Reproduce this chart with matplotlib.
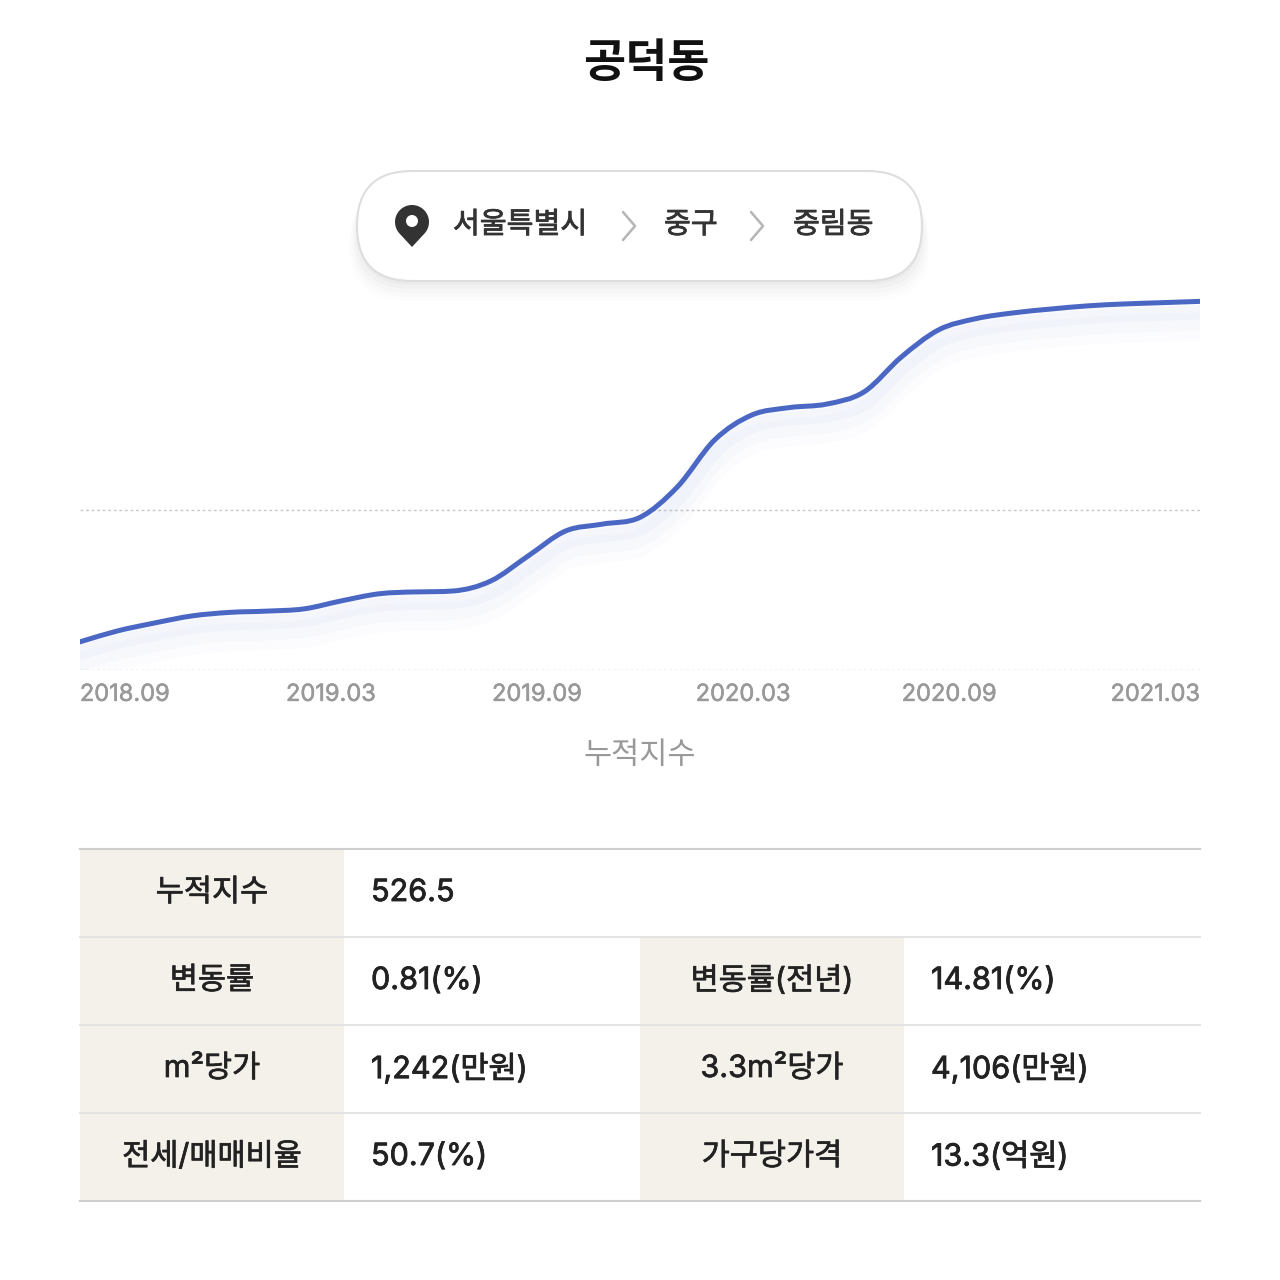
import numpy as np
import matplotlib.pyplot as plt
import matplotlib.patheffects as pe
from matplotlib.patches import FancyBboxPatch, Rectangle, Circle, Polygon, PathPatch
from matplotlib.path import Path

plt.rcParams['font.family'] = ['Noto Sans CJK KR', 'DejaVu Sans']

# ---- data ----
title = "공덕동"
crumbs = ["서울특별시", "중구", "중림동"]
month_labels = ["2018.09", "2019.03", "2019.09", "2020.03", "2020.09", "2021.03"]
# monthly cumulative index, 2018.09 .. 2021.03
index_values = [418.8, 422.2, 424.7, 426.9, 428.0, 428.4, 429.1, 431.6, 433.8, 434.4,
                434.7, 437.8, 445.6, 453.4, 455.6, 457.7, 467.2, 481.9, 489.7, 492.0,
                493.1, 496.9, 507.8, 516.3, 519.8, 521.6, 522.8, 523.8, 524.4, 524.8,
                525.2]
grid_values = [410, 460]
x_name = "누적지수"

top_head, top_value = "누적지수", "526.5"
left_heads = ["변동률", "m²당가", "전세/매매비율"]
left_vals = ["0.81(%)", "1,242(만원)", "50.7(%)"]
right_heads = ["변동률(전년)", "3.3m²당가", "가구당가격"]
right_vals = ["14.81(%)", "4,106(만원)", "13.3(억원)"]

LINE = "#4A67C4"
HEAD_BG = "#F4F0EA"
TXT = "#222222"
NUM_FONT = ['Inter', 'Noto Sans CJK KR', 'DejaVu Sans']


def thicker(color, w=0.5):
    # thicken regular glyphs a little to get a medium weight look
    return [pe.withStroke(linewidth=w, foreground=color)]


fig = plt.figure(figsize=(12.8, 12.8), dpi=100)
fig.patch.set_facecolor("white")

# background axes in pixel coords for the page decoration
bg = fig.add_axes([0, 0, 1, 1])
bg.set_xlim(0, 1280)
bg.set_ylim(1280, 0)
bg.axis("off")

bg.text(646, 64, title, ha="center", va="center", fontsize=33, fontweight="bold", color="#111111")

# breadcrumb pill with soft shadow
for i, a in enumerate([0.022, 0.018, 0.014, 0.01, 0.006]):
    off = 4 + i * 4
    bg.add_patch(FancyBboxPatch((357 - i * 2, 171 + off), 565 + i * 4, 110,
                                boxstyle="round,pad=0,rounding_size=55",
                                facecolor="#000000", edgecolor="none", alpha=a))
bg.add_patch(FancyBboxPatch((357, 171), 565, 110, boxstyle="round,pad=0,rounding_size=55",
                            facecolor="white", edgecolor="#DEDEDE", linewidth=1.5))

# location pin
cx, cy, r = 412, 222, 17
tip = (412, 247)
ang = np.linspace(np.deg2rad(-42), np.deg2rad(222), 60)
pts = [(cx + r * np.cos(t), cy - r * np.sin(t)) for t in ang]
pts.append(tip)
bg.add_patch(Polygon(pts, closed=True, facecolor="#333333", edgecolor="none"))
bg.add_patch(Circle((cx, cy - 1), 6, facecolor="white", edgecolor="none"))

for x0, s in zip([453, 664, 793], crumbs):
    bg.text(x0, 225, s, ha="left", va="center", fontsize=21, color="#333333",
            path_effects=thicker("#333333", 0.6))
for x0 in [623, 751]:
    bg.plot([x0, x0 + 12, x0], [212, 226, 240], color="#B5B5B5", lw=1.8, solid_capstyle="round")

bg.text(640, 756, x_name, ha="center", va="center", fontsize=22, color="#999999")

# ---- table ----
row_h = 88
tops = [849, 937, 1025, 1113]
heads = [top_head] + left_heads + right_heads
values = [top_value] + left_vals + right_vals
head_xy = [(212, tops[0])] + [(212, t) for t in tops[1:]] + [(772, t) for t in tops[1:]]
val_xy = [(371, tops[0])] + [(371, t) for t in tops[1:]] + [(931, t) for t in tops[1:]]
for (hx, t), h in zip(head_xy, heads):
    bg.add_patch(Rectangle((hx - 132, t), 264, row_h, facecolor=HEAD_BG, edgecolor="none"))
    bg.text(hx, t + row_h / 2, h, ha="center", va="center", fontsize=22,
            family=NUM_FONT, color=TXT, path_effects=thicker(TXT, 0.5))
for (vx, t), v in zip(val_xy, values):
    bg.text(vx, t + row_h / 2, v, ha="left", va="center", fontsize=22,
            family=NUM_FONT, color=TXT, path_effects=thicker(TXT, 0.6))
for y in tops[1:]:
    bg.plot([80, 1200], [y, y], color="#E3E3E3", lw=1.5)
bg.plot([80, 1200], [tops[0], tops[0]], color="#CFCFCF", lw=1.5)
bg.plot([80, 1200], [tops[-1] + row_h, tops[-1] + row_h], color="#CFCFCF", lw=1.5)

# ---- line chart ----
ax = fig.add_axes([80 / 1280, (1280 - 670) / 1280, 1120 / 1280, 380 / 1280])
ax.set_facecolor("none")
months = np.arange(len(index_values))
vals = np.array(index_values)
for v in grid_values:
    ax.axhline(v, color="#C8C8C8", lw=1, linestyle=(0, (2, 2)), zorder=1)

# monotone cubic bezier (Fritsch-Carlson) through the monthly points
d = np.diff(vals)
m = np.zeros_like(vals)
m[0], m[-1] = d[0], d[-1]
for k in range(1, len(vals) - 1):
    if d[k - 1] * d[k] > 0:
        m[k] = (d[k - 1] + d[k]) / 2
for k in range(len(d)):
    if d[k] == 0:
        m[k] = m[k + 1] = 0
        continue
    a, b = m[k] / d[k], m[k + 1] / d[k]
    s = a * a + b * b
    if s > 9:
        t = 3 / np.sqrt(s)
        m[k], m[k + 1] = t * a * d[k], t * b * d[k]
verts = [(months[0], vals[0])]
codes = [Path.MOVETO]
for k in range(len(vals) - 1):
    verts += [(months[k] + 1 / 3, vals[k] + m[k] / 3),
              (months[k + 1] - 1 / 3, vals[k + 1] - m[k + 1] / 3),
              (months[k + 1], vals[k + 1])]
    codes += [Path.CURVE4] * 3
curve = PathPatch(Path(verts, codes), transform=ax.transData, fill=False, edgecolor=LINE,
                  lw=3.6, capstyle="round", joinstyle="round", zorder=3,
                  path_effects=[pe.SimpleLineShadow(offset=(0, -6), shadow_color=LINE, alpha=0.03, linewidth=14),
                                pe.SimpleLineShadow(offset=(0, -12), shadow_color=LINE, alpha=0.022, linewidth=18),
                                pe.SimpleLineShadow(offset=(0, -18), shadow_color=LINE, alpha=0.015, linewidth=20),
                                pe.Normal()])
ax.add_patch(curve)
ax.set_xlim(0, 30)
ax.set_ylim(410, 528.75)
ax.set_yticks([])
ax.set_xticks(np.linspace(1.2, 28.8, len(month_labels)))
ax.set_xticklabels(month_labels, fontsize=17, color="#999999", family=NUM_FONT)
for lbl in ax.get_xticklabels():
    lbl.set_path_effects(thicker("#999999", 0.4))
ax.tick_params(axis="x", length=0, pad=10)
for s in ax.spines.values():
    s.set_visible(False)

fig.savefig("out.png", dpi=100, facecolor="white")
